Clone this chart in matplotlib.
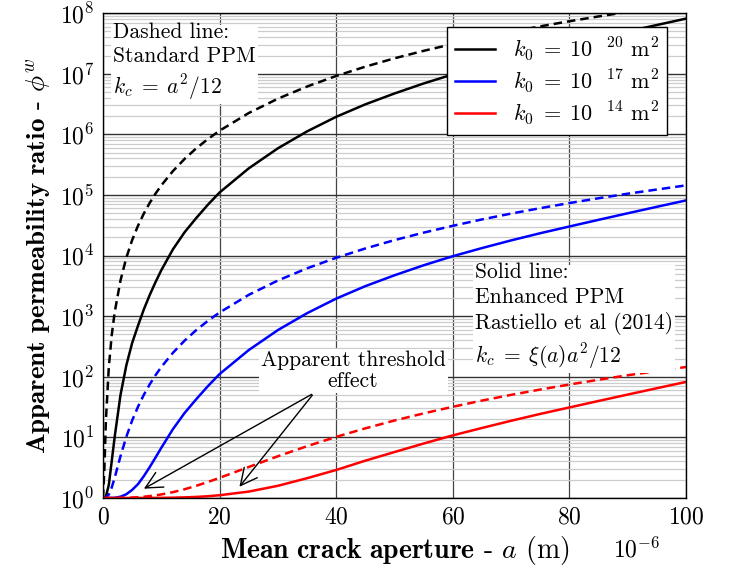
import matplotlib
matplotlib.use("Agg")
import matplotlib.pyplot as plt
from matplotlib.ticker import LogLocator, NullFormatter, MultipleLocator

plt.rcParams['font.family'] = ['cmr10', 'DejaVu Serif']
plt.rcParams['mathtext.fontset'] = 'cm'
plt.rcParams['axes.formatter.use_mathtext'] = True

# crack aperture (x 1e-6 m)
aperture = [0, 0.25, 0.5, 1, 1.5, 2, 3, 4, 5, 6, 7, 8, 9, 10, 12, 14, 16, 18,
            20, 25, 30, 35, 40, 45, 50, 55, 60, 65, 70, 75, 80, 85, 90, 95, 100]

# standard PPM (dashed)
std_k20 = [1, 3.25, 19, 145, 486, 1.15e3, 3.88e3, 9.2e3, 1.8e4, 3.1e4, 4.93e4,
           7.36e4, 1.05e5, 1.44e5, 2.48e5, 3.94e5, 5.89e5, 8.38e5, 1.15e6,
           2.25e6, 3.88e6, 6.16e6, 9.2e6, 1.31e7, 1.8e7, 2.39e7, 3.1e7, 3.95e7,
           4.93e7, 6.06e7, 7.36e7, 8.83e7, 1.05e8, 1.23e8, 1.44e8]
std_k17 = [1, 1.002, 1.018, 1.14, 1.49, 2.15, 4.88, 10.2, 19, 32, 50.3, 74.6,
           105.8, 145, 249, 395, 590, 839, 1.15e3, 2.25e3, 3.88e3, 6.16e3,
           9.2e3, 1.31e4, 1.8e4, 2.39e4, 3.1e4, 3.95e4, 4.93e4, 6.06e4, 7.36e4,
           8.83e4, 1.05e5, 1.23e5, 1.44e5]
std_k14 = [1, 1, 1, 1.0001, 1.0005, 1.0012, 1.0039, 1.0092, 1.018, 1.031,
           1.049, 1.074, 1.105, 1.144, 1.248, 1.394, 1.589, 1.838, 2.15, 3.25,
           4.88, 7.16, 10.2, 14.1, 19, 24.9, 32, 40.5, 50.3, 61.6, 74.6, 89.3,
           106, 124, 145]

# enhanced PPM, Rastiello et al (2014) (solid)
enh_k20 = [1, 1.006, 1.057, 1.644, 4.06, 10.1, 49.9, 154, 361, 695, 1.29e3,
           2.22e3, 3.63e3, 5.73e3, 1.27e4, 2.43e4, 4.17e4, 6.92e4, 1.1e5,
           2.75e5, 5.89e5, 1.12e6, 1.95e6, 3.13e6, 4.73e6, 6.92e6, 9.77e6,
           1.33e7, 1.78e7, 2.34e7, 3.02e7, 3.89e7, 4.99e7, 6.38e7, 8.13e7]
enh_k17 = [1, 1, 1, 1.0006, 1.003, 1.009, 1.049, 1.153, 1.36, 1.69, 2.29,
           3.22, 4.63, 6.73, 13.7, 25.3, 42.7, 70.2, 111, 276, 590, 1.12e3,
           1.95e3, 3.13e3, 4.73e3, 6.92e3, 9.77e3, 1.33e4, 1.78e4, 2.34e4,
           3.02e4, 3.89e4, 4.99e4, 6.38e4, 8.13e4]
enh_k14 = [1, 1, 1, 1, 1, 1, 1, 1.0002, 1.0004, 1.0007, 1.0013, 1.0022,
           1.0036, 1.0057, 1.0127, 1.0243, 1.0417, 1.0692, 1.11, 1.275, 1.589,
           2.12, 2.9, 4.13, 5.73, 7.92, 10.8, 14.3, 18.8, 24.4, 31.2, 39.9,
           50.9, 64.8, 82.3]

colors = ['black', 'blue', 'red']
labels = [r'$k_0\;=\;10^{\quad 20}$ m$^2$',
          r'$k_0\;=\;10^{\quad 17}$ m$^2$',
          r'$k_0\;=\;10^{\quad 14}$ m$^2$']

fig = plt.figure(figsize=(7.33, 5.72), dpi=100)
ax = fig.add_axes([0.1405, 0.1294, 0.7955, 0.8476])

for enh, std, c, lab in zip([enh_k20, enh_k17, enh_k14],
                            [std_k20, std_k17, std_k14], colors, labels):
    ax.plot(aperture, enh, color=c, lw=1.8, label=lab)
    ax.plot(aperture, std, color=c, lw=1.8, dashes=(3.4, 2.0))

ax.set_yscale('log')
ax.set_xlim(0, 100)
ax.set_ylim(1, 1e8)
ax.xaxis.set_major_locator(MultipleLocator(20))
ax.yaxis.set_major_locator(LogLocator(base=10, numticks=20))
ax.yaxis.set_minor_locator(LogLocator(base=10, subs=range(2, 10), numticks=100))
ax.yaxis.set_minor_formatter(NullFormatter())
ax.set_axisbelow(True)
ax.grid(True, which='major', axis='x', color='#444444', lw=0.9)
ax.grid(True, which='major', axis='y', color='#333333', lw=1.0)
ax.grid(True, which='minor', axis='y', color='#cccccc', lw=0.9)
ax.tick_params(which='both', direction='in', labelsize=17, length=0, pad=6)
for s in ax.spines.values():
    s.set_linewidth(1.0)

ax.set_xlabel(r'$\mathbf{Mean\ crack\ aperture}$ - $a$ (m)', fontsize=20, labelpad=4)
ax.set_ylabel(r'$\mathbf{Apparent\ permeability\ ratio}$ - $\phi^w$', fontsize=19.5, labelpad=5)
fig.text(0.869, 0.038, r'$10^{-6}$', fontsize=17, ha='center', va='center')

leg = ax.legend(loc='upper right', bbox_to_anchor=(0.967, 0.971), fontsize=16,
                fancybox=False, framealpha=1, edgecolor='black',
                handlelength=1.8, borderpad=0.35, labelspacing=0.2,
                borderaxespad=0)
leg.get_frame().set_linewidth(1.0)

box = dict(facecolor='white', edgecolor='none', pad=1.5)
ax.text(0.017, 0.981, 'Dashed line:\nStandard PPM\n$k_c\\;=\\;a^2/12$',
        transform=ax.transAxes, fontsize=15.5, va='top', ha='left',
        linespacing=1.3, bbox=box)
ax.text(0.638, 0.485, 'Solid line:\nEnhanced PPM\nRastiello et al (2014)\n$k_c\\;=\\;\\xi(a)a^2/12$',
        transform=ax.transAxes, fontsize=15.5, va='top', ha='left',
        linespacing=1.3, bbox=box)

arrow = dict(arrowstyle='->', color='black', lw=1.0, mutation_scale=30)
ax.annotate('', xy=(6.6, 1.35), xytext=(36.2, 54), arrowprops=arrow)
ax.annotate('', xy=(23.1, 1.41), xytext=(36.2, 54), arrowprops=arrow)
ax.text(0.429, 0.262, 'Apparent threshold\neffect', transform=ax.transAxes,
        fontsize=15.5, ha='center', va='center', multialignment='center',
        linespacing=1.1, bbox=box)

fig.savefig('out.png', dpi=100)
